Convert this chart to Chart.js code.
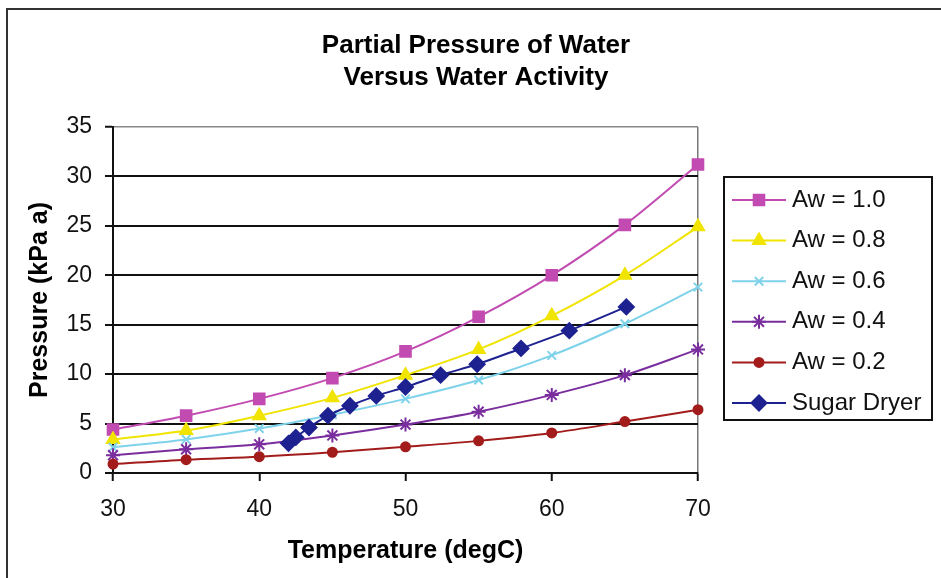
<html>
<head>
<title>Partial Pressure of Water Versus Water Activity</title>
<script src="https://cdn.jsdelivr.net/npm/chart.js"></script>
<style>
  body { margin: 0; background: #fff; }
  #wrap { width: 941px; height: 578px; }
</style>
</head>
<body>
<div id="wrap"><canvas id="chart" width="941" height="578"></canvas></div>
<script>
// temperatures (degC) for the water activity curves
const temps = [30, 35, 40, 45, 50, 55, 60, 65, 70];
const aw10 = [4.4, 5.8, 7.5, 9.6, 12.3, 15.8, 20.0, 25.1, 31.2];
const aw08 = [3.4, 4.3, 5.8, 7.6, 9.9, 12.5, 15.9, 20.0, 24.9];
const aw06 = [2.6, 3.4, 4.5, 5.9, 7.5, 9.4, 11.9, 15.1, 18.8];
const aw04 = [1.8, 2.4, 2.9, 3.8, 4.9, 6.2, 7.9, 9.9, 12.5];
const aw02 = [0.9, 1.35, 1.65, 2.1, 2.65, 3.25, 4.05, 5.2, 6.4];
// sugar dryer run
const dryerTemps = [42.0, 42.5, 43.4, 44.7, 46.2, 48.0, 50.0, 52.4, 54.9, 57.9, 61.2, 65.1];
const dryerPress = [3.0, 3.6, 4.6, 5.8, 6.8, 7.8, 8.7, 9.9, 11.0, 12.6, 14.4, 16.8];

const xTicks = [30, 40, 50, 60, 70];
const yTicks = [0, 5, 10, 15, 20, 25, 30, 35];
const titleLines = ['Partial Pressure of Water', 'Versus Water Activity'];

const FONT = '"Liberation Sans", Arial, sans-serif';

function pts(xs, ys) {
  return xs.map((x, i) => ({x: x, y: ys[i]}));
}

function series(label, xs, ys, color, style, radius, idx) {
  return {
    label: label,
    data: pts(xs, ys),
    showLine: true,
    borderColor: color,
    backgroundColor: color,
    borderWidth: 2,
    pointStyle: style,
    pointRadius: radius,
    pointHoverRadius: radius,
    pointBorderWidth: 2,
    cubicInterpolationMode: 'monotone',
    clip: false,
    order: 6 - idx
  };
}

const datasets = [
  series('Aw = 1.0', temps, aw10, '#C24BB2', 'rect', 7.5, 0),
  series('Aw = 0.8', temps, aw08, '#F0E400', 'triangle', 7, 1),
  series('Aw = 0.6', temps, aw06, '#7ED2EA', 'crossRot', 6, 2),
  series('Aw = 0.4', temps, aw04, '#7A2E9E', 'star', 7, 3),
  series('Aw = 0.2', temps, aw02, '#A31C1C', 'circle', 4.5, 4),
  series('Sugar Dryer', dryerTemps, dryerPress, '#1E2290', 'rectRot', 7.5, 5)
];

const paperPlugin = {
  id: 'paper',
  beforeDraw(chart) {
    const ctx = chart.ctx;
    ctx.save();
    ctx.fillStyle = '#fff';
    ctx.fillRect(0, 0, chart.width, chart.height);
    ctx.strokeStyle = '#333';
    ctx.lineWidth = 2;
    ctx.strokeRect(7, 9, chart.width + 10, chart.height + 10);
    ctx.restore();
  },
  afterDraw(chart) {
    const ctx = chart.ctx;
    ctx.save();
    // title
    ctx.fillStyle = '#000';
    ctx.font = 'bold 26px ' + FONT;
    ctx.textAlign = 'center';
    ctx.textBaseline = 'middle';
    titleLines.forEach((t, i) => ctx.fillText(t, 476, 46 + i * 32));

    // legend box
    ctx.strokeStyle = '#111';
    ctx.lineWidth = 2;
    ctx.strokeRect(724, 177, 208, 243);
    ctx.font = '24px ' + FONT;
    ctx.textAlign = 'left';
    chart.data.datasets.forEach((ds, i) => {
      const y = 200 + i * 40.6;
      ctx.strokeStyle = ds.borderColor;
      ctx.lineWidth = 2;
      ctx.beginPath();
      ctx.moveTo(732, y);
      ctx.lineTo(786, y);
      ctx.stroke();
      ctx.fillStyle = ds.backgroundColor;
      Chart.helpers.drawPoint(ctx, {
        pointStyle: ds.pointStyle,
        radius: ds.pointRadius,
        rotation: 0,
        borderWidth: 2
      }, 759, y);
      ctx.fillStyle = '#111';
      ctx.fillText(ds.label, 792, y);
    });
    ctx.restore();
  }
};

new Chart(document.getElementById('chart'), {
  type: 'scatter',
  data: { datasets: datasets },
  plugins: [paperPlugin],
  options: {
    responsive: false,
    animation: false,
    layout: { padding: { left: 14, right: 243, top: 127, bottom: 0 } },
    plugins: {
      legend: { display: false },
      title: { display: false },
      tooltip: { enabled: false }
    },
    scales: {
      x: {
        type: 'linear',
        min: 30,
        max: 70,
        afterBuildTicks(scale) { scale.ticks = xTicks.map(v => ({value: v})); },
        afterFit(scale) { scale.height = 105; },
        ticks: { color: '#111', font: { size: 23, family: FONT }, padding: 15 },
        grid: {
          color: c => (c.tick && c.tick.value === 70) ? '#777' : 'rgba(0,0,0,0)',
          lineWidth: 1.5,
          tickColor: '#111',
          tickLength: 8,
          tickWidth: 2
        },
        border: { color: '#111', width: 2 },
        title: {
          display: true,
          text: 'Temperature (degC)',
          color: '#000',
          font: { size: 25, weight: 'bold', family: FONT },
          padding: { top: 0, bottom: 12 }
        }
      },
      y: {
        type: 'linear',
        min: 0,
        max: 35,
        afterBuildTicks(scale) { scale.ticks = yTicks.map(v => ({value: v})); },
        afterFit(scale) { scale.width = 99; },
        ticks: { color: '#111', font: { size: 23, family: FONT }, padding: 13 },
        grid: {
          color: c => (c.tick && c.tick.value === 35) ? '#888' : '#111',
          lineWidth: c => (c.tick && c.tick.value === 35) ? 1.5 : 2,
          tickColor: '#111',
          tickLength: 8,
          tickWidth: 2
        },
        border: { color: '#111', width: 2 },
        title: {
          display: true,
          text: 'Pressure (kPa a)',
          color: '#000',
          font: { size: 25, weight: 'bold', family: FONT },
          padding: { top: 11, bottom: 0 }
        }
      }
    }
  }
});
</script>
</body>
</html>
